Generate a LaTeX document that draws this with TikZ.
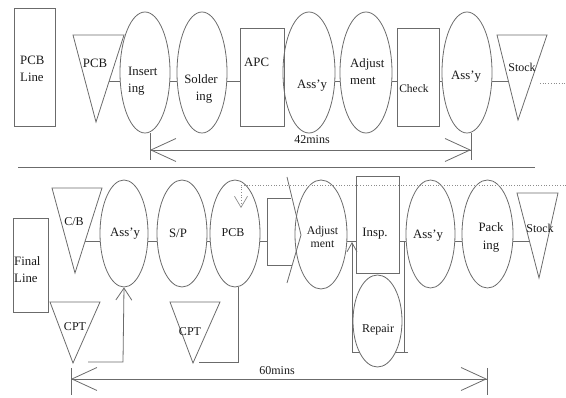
\documentclass[tikz,border=0pt]{standalone}
\usepackage{fontspec}
\setmainfont{Liberation Serif}
\usetikzlibrary{shapes.geometric,arrows.meta}
\begin{document}
\begin{tikzpicture}[x=1pt,y=-1pt,
  ln/.style={draw=black!58, line width=0.8pt},
  dot/.style={draw=black!45, line width=0.7pt, dotted},
  ell/.style={ellipse, ln, inner sep=0pt},
  box/.style={rectangle, ln, inner sep=0pt},
  txt/.style={font=\fontsize{12.8}{17}\selectfont, text=black!90, inner sep=0pt},
  small/.style={font=\fontsize{12}{17}\selectfont},
  barb/.style={-{Straight Barb[length=25pt,width=23pt]}},
  sbarb/.style={-{Straight Barb[length=12pt,width=16pt]}},
]
\useasboundingbox (0,0) rectangle (566,398);

% ---------- PCB line ----------
\node[box, minimum width=41pt, minimum height=118pt] (pcbline) at (34.5,67) {};
\draw[ln] (73,35) -- (124,35) -- (96,122) -- cycle;
\node[ell, minimum width=50pt, minimum height=121pt] (ins) at (145,72.5) {};
\node[ell, minimum width=50pt, minimum height=121pt] (sol) at (202,72.5) {};
\node[box, minimum width=44pt, minimum height=98pt] (apc) at (262,77) {};
\node[ell, minimum width=52pt, minimum height=121pt] (assA) at (309,72.5) {};
\node[ell, minimum width=52pt, minimum height=121pt] (adjA) at (366,72.5) {};
\node[box, minimum width=42pt, minimum height=98pt] (chk) at (418,77) {};
\node[ell, minimum width=50pt, minimum height=121pt] (assB) at (467,72.5) {};
\draw[ln] (497,35) -- (547,35) -- (518,120) -- cycle;

\coordinate (r1) at (0,81);
\coordinate (pcbtri) at (109,81);
\coordinate (stocktri) at (508,81);
\draw[ln] (pcbtri) -- (ins.west |- r1);
\draw[ln] (ins.east |- r1) -- (sol.west |- r1);
\draw[ln] (sol.east |- r1) -- (apc.west |- r1);
\draw[ln] (assA.east |- r1) -- (adjA.west |- r1);
\draw[ln] (adjA.east |- r1) -- (chk.west |- r1);
\draw[ln] (chk.east |- r1) -- (assB.west |- r1);
\draw[ln] (assB.east |- r1) -- (stocktri);
\coordinate (out1) at (540,83);
\coordinate (out1e) at (566,83);
\draw[dot] (out1) -- (out1e);

\node[txt, anchor=west, align=left] (pcblinet) at (20,68.5) {PCB\\Line};
\node[txt] (pcbtrit) at (95,63) {PCB};
\node[txt, anchor=west, align=left] (inst) at (128,81.5) {Insert\\ing};
\node[txt, align=center] (solt) at (201,88.5) {Solder\\\hspace*{6pt}ing};
\node[txt, anchor=west] (apct) at (244,62) {APC};
\node[txt] (assAt) at (312,86) {Ass’y};
\node[txt, anchor=west, align=left] (adjAt) at (350,71.5) {Adjust\\ment};
\node[txt, font=\fontsize{11.5}{17}\selectfont] (chkt) at (414,89) {Check};
\node[txt] (assBt) at (466,77) {Ass’y};
\node[txt, small] (stockAt) at (522,67) {Stock};

% 42 minutes span
\coordinate (s42a) at (150,150);
\coordinate (s42b) at (471,150);
\draw[ln] (ins.south -| s42a) -- (150,160);
\draw[ln] (assB.south -| s42b) -- (471,160);
\draw[ln, barb] (s42b) -- (s42a);
\draw[ln, barb] (s42a) -- (s42b);
\node[txt, font=\fontsize{12}{17}\selectfont] (m42) at (312,140) {42mins};

% separator
\coordinate (sepa) at (18,167);
\coordinate (sepb) at (535,167);
\draw[ln] (sepa) -- (sepb);

% ---------- Final line ----------
\node[box, minimum width=35pt, minimum height=94pt] (finline) at (30.5,265) {};
\draw[ln] (52,188) -- (102,188) -- (75,273) -- cycle;
\draw[ln] (50,302) -- (100,302) -- (73,363) -- cycle;
\draw[ln] (170,302) -- (220,302) -- (193,363) -- cycle;
\node[ell, minimum width=48pt, minimum height=107pt] (assC) at (124,233.5) {};
\node[ell, minimum width=50pt, minimum height=107pt] (sp) at (182,233.5) {};
\node[ell, minimum width=50pt, minimum height=107pt] (pcbB) at (235,233.5) {};
\node[ell, minimum width=52pt, minimum height=109pt] (adjB) at (321,234.5) {};
\node[box, minimum width=43pt, minimum height=97pt] (insp) at (377.5,224.5) {};
\node[ell, minimum width=49pt, minimum height=108pt] (assD) at (430.5,234) {};
\node[ell, minimum width=51pt, minimum height=108pt] (pack) at (487.5,234) {};
\draw[ln] (517,193) -- (558,193) -- (539,278) -- cycle;

% transfer arrow
\coordinate (arA) at (267,198);
\coordinate (arB) at (291,198);
\coordinate (arC) at (267,265);
\coordinate (arD) at (292,265);
\coordinate (arTop) at (287,177);
\coordinate (arTip) at (301,235);
\coordinate (arBot) at (287,283);
\draw[ln] (arB) -- (arA) -- (arC) -- (arD);
\draw[ln] (arTop) -- (arTip) -- (arBot);

\coordinate (r2) at (0,241);
\coordinate (cbtri) at (85,241);
\coordinate (stocktriB) at (529,241);
\draw[ln] (cbtri) -- (assC.west |- r2);
\draw[ln] (assC.east |- r2) -- (sp.west |- r2);
\draw[ln] (sp.east |- r2) -- (pcbB.west |- r2);
\draw[ln] (pcbB.east |- r2) -- (arA |- r2);
\draw[ln] (adjB.east |- r2) -- (insp.west |- r2);
\draw[ln] (insp.east |- r2) -- (assD.west |- r2);
\draw[ln] (assD.east |- r2) -- (pack.west |- r2);
\draw[ln] (pack.east |- r2) -- (stocktriB);

% repair loop
\coordinate (lpA) at (408,352);
\coordinate (lpB) at (352,352);
\coordinate (lpC) at (352,242);
\coordinate (lpD) at (404,241);
\coordinate (lpE) at (404,352);
\draw[ln] (lpD) -- (lpE);
\draw[ln, -{Straight Barb[length=9pt,width=10pt]}] (lpA) -- (lpB) -- (lpC);
\node[ell, fill=white, minimum width=49pt, minimum height=92pt] (rep) at (377.5,321) {};

% feeds from CPT stocks
\coordinate (cfA) at (88,362);
\coordinate (cfB) at (123,362);
\draw[ln, sbarb] (cfA) -- (cfB) -- (assC.south);
\coordinate (cfC) at (199,362);
\coordinate (cfD) at (238,362);
\draw[ln] (cfC) -- (cfD) -- (cfD |- pcbB.south);

% dotted return line
\coordinate (dtA) at (566,185);
\coordinate (dtB) at (241,185);
\coordinate (dtC) at (241,208);
\draw[dot, -{Straight Barb[length=11pt,width=13pt]}] (dtA) -- (dtB) -- (dtC);

% 60 minutes span
\coordinate (s60a) at (71,379);
\coordinate (s60b) at (487,379);
\draw[ln] (71,368) -- (71,395);
\draw[ln] (487,368) -- (487,395);
\draw[ln, barb] (s60b) -- (s60a);
\draw[ln, barb] (s60a) -- (s60b);
\node[txt, font=\fontsize{12}{17}\selectfont] (m60) at (277,371) {60mins};

\node[txt, small] (cbt) at (74,222) {C/B};
\node[txt, anchor=west, align=left] (finlinet) at (14,269.5) {Final\\Line};
\node[txt] (assCt) at (125,234) {Ass’y};
\node[txt] (spt) at (178,233) {S/P};
\node[txt, small] (pcbBt) at (233,233) {PCB};
\node[txt, small] (cptAt) at (75,327) {CPT};
\node[txt, small] (cptBt) at (190,332) {CPT};
\node[txt, align=center, font=\fontsize{11.8}{13}\selectfont] (adjBt) at (322.5,236.5) {Adjust\\ment};
\node[txt] (inspt) at (375,234) {Insp.};
\node[txt] (assDt) at (428,236) {Ass’y};
\node[txt, align=center, font=\fontsize{12.8}{18}\selectfont] (packt) at (491,237) {Pack\\ing};
\node[txt, small] (stockBt) at (540,228) {Stock};
\node[txt, small] (rept) at (378,330) {Repair};
\end{tikzpicture}
\end{document}
